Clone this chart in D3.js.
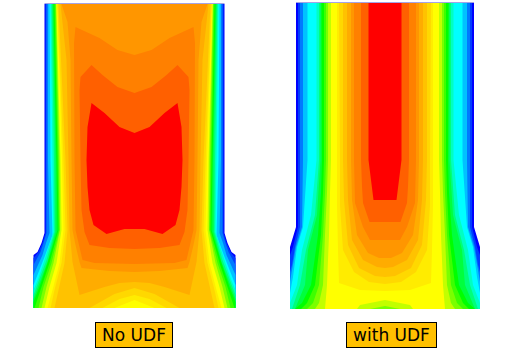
<!DOCTYPE html>
<html>
<head>
<meta charset="utf-8">
<script src="https://cdn.jsdelivr.net/npm/d3@7"></script>
<style>
  body { margin: 0; background: #fff; }
  svg { display: block; }
  text { font-family: "DejaVu Sans", sans-serif; }
</style>
</head>
<body>
<div id="chart"></div>
<script>
// contour levels (0 = blue, 1 = red), one outline per level in each panel
const levelValues = [0, .06, .12, .19, .25, .31, .38, .44, .5, .56, .62, .69, .75, .769, .788, .81, .831, .853, .875, .906, 1];
const panelLabels = ["No UDF", "with UDF"];

// half outlines as [r, z]; the other side is the mirror image
const noUdfContours = [
  [[90,4],[90,233],[93,243],[97,252],[101,255],[101,308]],
  [[89,4],[89,233],[92,243],[96,252],[101,258],[101,308]],
  [[88,4],[88,233],[91,243],[94,252],[101,265],[101,308]],
  [[86.5,4],[86.5,160],[85,233],[88.5,243],[92,255],[101,275],[101,308]],
  [[85,4],[84,160],[82,235],[90,257],[101,285],[101,308]],
  [[84,4],[82,160],[81,232],[89,257],[96,278],[101,290],[101,308]],
  [[83,4],[80.5,160],[80,232],[88,260],[101,295],[101,308]],
  [[82,4],[79,160],[79,232],[87,262],[101,299],[101,308]],
  [[81,4],[78,160],[77,230],[87,263],[95,287],[101,302],[101,308]],
  [[80,4],[77,160],[76,230],[85,263],[93,287],[100,308]],
  [[79,4],[76,160],[75,230],[83,263],[91,287],[96,308]],
  [[78.5,4],[75,160],[74.5,230],[81,263],[88,287],[93,308]],
  [[78,4],[74,160],[73,230],[78,263],[85,287],[90,308]],
  [[77.5,4],[72.5,160],[71,230],[75,263],[82,290],[87,308],[20,308],[0,300]],
  [[77,4],[71,160],[69,230],[73,263],[80,290],[84,308],[32,308],[15,299],[0,295]],
  [[76,4],[69,160],[67,230],[70,263],[76,290],[80,308],[45,308],[20,294],[0,288]],
  [[74,4],[68,60],[66,160],[65,230],[62,262],[55,295],[30,287],[15,283],[0,282]],
  [[73,4],[67,22],[64,60],[63,160],[62,230],[59,245],[55,262],[53,268],[25,271],[0,272]],
  [[0,55],[17,50],[35,38],[59,27],[60.5,43],[60,160],[59,230],[52,260],[40,263],[0,264]],
  [[0,93],[17,87],[32,75],[43,65],[54,77],[55,90],[54,160],[53,210],[50,232],[45,245],[25,248],[0,249]],
  [[0,133],[15,127],[30,113],[43,103],[47,127],[48,160],[47,187],[45,210],[41,225],[28,234],[10,229],[0,229]]
];

const withUdfContours = [
  [[89,3],[89,227],[95,247],[95,309]],
  [[87,3],[87,227],[92,247],[95,255],[95,309]],
  [[85,3],[85,227],[90,247],[93,265],[95,272],[95,309]],
  [[82,3],[82,160],[83,227],[89,247],[93,270],[95,282],[95,309]],
  [[77.5,3],[77.5,160],[82,227],[88,247],[92,277],[95,293],[95,309]],
  [[68.5,3],[68.5,160],[74,215],[83,250],[88,285],[95,303],[95,309]],
  [[66,3],[66,160],[70,215],[79,250],[85,285],[93,309]],
  [[64.5,3],[64.5,160],[68,215],[77,250],[80,285],[90,309]],
  [[63.5,3],[63,160],[64,193],[67,235],[74,285],[83,303],[90,309]],
  [[61,3],[61,160],[62,193],[64,235],[70,285],[78,303],[84,309]],
  [[59,3],[59,160],[60,193],[62,235],[66,285],[72,303],[78,309]],
  [[57,3],[57,160],[58,193],[60,235],[62,285],[66,303],[70,309],[15,309],[0,306]],
  [[54,3],[54,160],[55,193],[56,235],[58,285],[60,309],[28,309],[25,305],[0,300]],
  [[48,3],[48,160],[48,205],[47,250],[46,283],[25,290],[0,291]],
  [[46,3],[45,160],[45,205],[42,250],[31,272],[16,282],[0,284]],
  [[42,3],[42,160],[41,200],[37,245],[26,268],[10,276],[0,277]],
  [[38,3],[38,160],[37,200],[33,240],[22,260],[8,267],[0,268]],
  [[34,3],[34,160],[33,200],[28,235],[17,253],[6,258],[0,258]],
  [[31,3],[31,160],[30,203],[22,227],[15,240],[0,240]],
  [[24,3],[24,160],[23,187],[22,203],[15.5,222],[0,222]],
  [[16.5,3],[16.5,160],[11.5,200],[0,200]]
];

const w = 530;
const h = 355;

const color = d3.scaleLinear()
  .domain([0, .25, .5, .75, 1])
  .range(["#0000ff", "#00ffff", "#00ff00", "#ffff00", "#ff0000"]);

const svg = d3.select("#chart").append("svg")
  .attr("width", w)
  .attr("height", h);

const yScale = d3.scaleLinear().domain([0, h]).range([0, h]);

let drawPanel = (contours, label, cx, box) => {
  const xScale = d3.scaleLinear().domain([-110, 110]).range([cx - 110, cx + 110]);
  const outline = d3.line().x(d => xScale(d[0])).y(d => yScale(d[1]));

  const g = svg.append("g");
  g.selectAll("path")
    .data(contours)
    .enter()
    .append("path")
    .attr("d", d => {
      const mirrored = d.map(p => [-p[0], p[1]]).reverse();
      return outline(d.concat(mirrored)) + "Z";
    })
    .attr("fill", (d, i) => color(levelValues[i]));

  // faint line along the top of the domain
  const top = contours[0][0];
  g.append("line")
    .attr("x1", xScale(-top[0]))
    .attr("x2", xScale(top[0]))
    .attr("y1", yScale(top[1]) - 0.5)
    .attr("y2", yScale(top[1]) - 0.5)
    .attr("stroke", "#a3a3e6")
    .attr("stroke-width", 1);

  svg.append("rect")
    .attr("x", box[0] + 0.5)
    .attr("y", 322.5)
    .attr("width", box[1] - box[0])
    .attr("height", 25)
    .attr("fill", "#ffc000")
    .attr("stroke", "black")
    .attr("stroke-width", 1);

  svg.append("text")
    .attr("x", (box[0] + box[1]) / 2 + 0.5)
    .attr("y", 341)
    .attr("text-anchor", "middle")
    .attr("font-size", 17)
    .attr("fill", "black")
    .text(label);
};

drawPanel(noUdfContours, panelLabels[0], 134.5, [95, 172]);
drawPanel(withUdfContours, panelLabels[1], 385, [346, 436]);
</script>
</body>
</html>
